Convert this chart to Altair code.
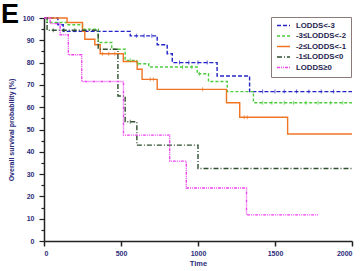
import altair as alt
import pandas as pd

# ---- data ----
groups = ["LODDS<-3", "-3≤LODDS<-2", "-2≤LODDS<-1", "-1≤LODDS<0", "LODDS≥0"]
colors = ["#2424c8", "#4ccc3c", "#f07424", "#2f4f2f", "#ee44ee"]
dashes = [[4, 2], [3, 2], [1, 0], [5, 2, 1, 2], [3, 1, 1, 1, 1, 1]]

blue_t = [0, 90, 125, 560, 735, 800, 833, 1124, 1335]
blue_s = [100, 97, 94, 92, 88, 84, 80, 74, 67]
blue_end = 2000
blue_c = [600, 650, 700, 880, 940, 1000, 1060, 1420, 1500, 1560, 1640, 1720, 1800, 1880]

green_t = [0, 20, 150, 250, 352, 440, 527, 603, 680, 995, 1068, 1190, 1360]
green_s = [100, 98, 97, 95, 89, 86, 81, 79.5, 78, 75, 71.5, 67, 62]
green_end = 2000
green_c = [560, 610, 900, 960, 1010, 1420, 1480, 1560, 1620, 1700, 1780, 1860, 1940]

orange_t = [0, 150, 250, 265, 330, 365, 515, 605, 637, 735, 1185, 1271, 1582]
orange_s = [100, 98, 94, 90.5, 88, 84, 80.5, 77, 72.5, 68, 62, 55.5, 48]
orange_end = 2000
orange_c = [380, 420, 460, 690, 710, 1030, 1300, 1320]

dkgreen_t = [0, 20, 352, 480, 527, 603, 1000]
dkgreen_s = [100, 94.5, 86, 65, 53.5, 43, 32.5]
dkgreen_end = 2000
dkgreen_c = [60, 130, 200, 560]

pink_t = [0, 40, 105, 158, 245, 516, 816, 924, 1315]
pink_s = [100, 97.5, 92.5, 83.5, 71.5, 47.5, 35.8, 23.8, 11.7]
pink_end = 1786
pink_c = []

x_ticks = [0, 500, 1000, 1500, 2000]
y_ticks = [0, 5, 10, 15, 20, 25, 30, 35, 40, 45, 50, 55, 60, 65, 70, 75, 80, 85, 90, 95, 100]

series = [
    (blue_t, blue_s, blue_end, blue_c),
    (green_t, green_s, green_end, green_c),
    (orange_t, orange_s, orange_end, orange_c),
    (dkgreen_t, dkgreen_s, dkgreen_end, dkgreen_c),
    (pink_t, pink_s, pink_end, pink_c),
]

line_rows, cens_rows = [], []
for g, (ts, ss, end, cs) in zip(groups, series):
    for t, s in zip(ts, ss):
        line_rows.append({"group": g, "time": t, "surv": s})
    line_rows.append({"group": g, "time": end, "surv": ss[-1]})
    for c in cs:
        val = [s for t, s in zip(ts, ss) if t <= c][-1]
        cens_rows.append({"group": g, "time": c, "surv": val})

lines_df = pd.DataFrame(line_rows)
cens_df = pd.DataFrame(cens_rows)

NAVY = "#2b2b7a"
FONT = "Liberation Sans"

color_scale = alt.Scale(domain=groups, range=colors)
dash_scale = alt.Scale(domain=groups, range=dashes)

x_axis = alt.Axis(
    values=x_ticks, format="d", title="Time", grid=False,
    labelFont=FONT, labelFontSize=7, labelFontWeight="bold", labelColor=NAVY,
    titleFont=FONT, titleFontSize=7.5, titleFontWeight="bold", titleColor=NAVY,
    domainColor="#222222", domainWidth=1.5, tickColor="#222222", tickWidth=1.5,
    tickSize=5, labelPadding=3, titlePadding=3, labelOverlap=False,
)
y_axis = alt.Axis(
    values=y_ticks,
    labelExpr="datum.value % 10 === 0 ? datum.label : ''",
    labelOverlap=False,
    title="Overall survival probability (%)", grid=False,
    labelFont=FONT, labelFontSize=7, labelFontWeight="bold", labelColor=NAVY,
    titleFont=FONT, titleFontSize=7, titleFontWeight="bold", titleColor=NAVY,
    domainColor="#222222", domainWidth=1.5, tickColor="#222222", tickWidth=1.2,
    tickSize={"condition": {"test": "datum.value % 10 === 0", "value": 5}, "value": 3},
    labelPadding=5, titlePadding=8,
)
x_scale = alt.Scale(domain=[0, 2000], nice=False)
y_scale = alt.Scale(domain=[0, 100], nice=False)

lines = alt.Chart(lines_df).mark_line(interpolate="step-after", strokeWidth=1.4).encode(
    x=alt.X("time:Q", scale=x_scale, axis=x_axis),
    y=alt.Y("surv:Q", scale=y_scale, axis=y_axis),
    color=alt.Color(
        "group:N", scale=color_scale,
        legend=alt.Legend(
            title=None, orient="none", legendX=227, legendY=-1,
            symbolType="stroke", symbolSize=169, symbolStrokeWidth=1.4,
            labelFont=FONT, labelFontSize=7.8, labelFontWeight="bold", labelColor="#1f1f4f",
            labelOffset=5, rowPadding=1.5, padding=5, clipHeight=7,
            strokeColor="#8a7a7a", fillColor="white",
        ),
    ),
    strokeDash=alt.StrokeDash("group:N", scale=dash_scale, legend=None),
    order=alt.Order("time:Q"),
)

ticks = alt.Chart(cens_df).mark_tick(orient="vertical", size=4, thickness=1).encode(
    x=alt.X("time:Q", scale=x_scale, axis=x_axis),
    y=alt.Y("surv:Q", scale=y_scale, axis=y_axis),
    color=alt.Color("group:N", scale=color_scale, legend=None),
)

label = alt.Chart(pd.DataFrame({"t": ["E"]})).mark_text(
    font=FONT, fontSize=27, fontWeight="bold", color="black", align="left", baseline="alphabetic"
).encode(text="t:N", x=alt.value(-43), y=alt.value(5))

chart = alt.layer(lines, ticks, label).properties(
    width=308, height=223,
    autosize=alt.AutoSizeParams(type="none"),
    padding={"left": 44, "top": 18, "right": 10, "bottom": 30},
    background="white",
).configure_view(stroke=None)

chart.save("out.html", embed_options={"renderer": "svg", "actions": False})
